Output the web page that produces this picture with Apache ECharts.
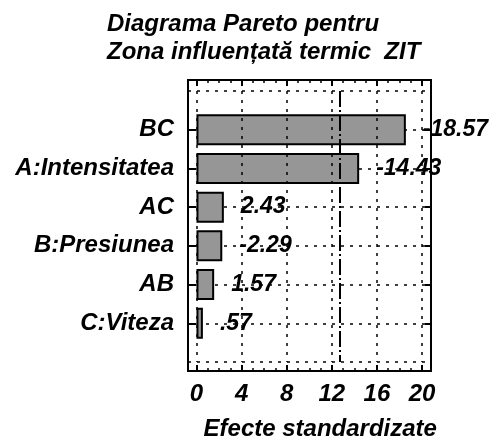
<!DOCTYPE html>
<html>
<head>
<meta charset="utf-8">
<script src="https://cdn.jsdelivr.net/npm/echarts@6/dist/echarts.min.js"></script>
<style>
  html, body { margin: 0; padding: 0; background: #fff; }
  #chart { width: 495px; height: 446px; }
</style>
</head>
<body>
<div id="chart"></div>
<script>
// Standardized effects (signed), one per factor / interaction
const categories = ['BC', 'A:Intensitatea', 'AC', 'B:Presiunea', 'AB', 'C:Viteza'];
const effects = [-18.57, -14.43, 2.43, -2.29, 1.57, 0.57];
// Significance threshold drawn as the vertical reference line
const criticalValue = 12.71;
const scaleTicks = [0, 4, 8, 12, 16, 20];
const titleLines = ['Diagrama Pareto pentru', 'Zona influențată termic  ZIT'];
const axisName = 'Efecte standardizate';

const FONT = "'Liberation Sans', Arial, Helvetica, sans-serif";
const textBase = { fontFamily: FONT, fontStyle: 'italic', fontWeight: 'bold', color: '#000' };

// One empty slot above and below the bars
const slots = [''].concat(categories, ['']);
const barValues = ['-'].concat(effects.map(Math.abs), ['-']);
const isCategory = (i, v) => v !== '';

function effectLabel(v) {
  return v.toFixed(2).replace(/^(-?)0\./, '$1.');
}

const dotted = { type: [3, 6], color: '#000', width: 1.5 };
const tickLine = { color: '#000', width: 2 };

const chart = echarts.init(document.getElementById('chart'), null, { renderer: 'canvas' });

chart.setOption({
  animation: false,
  backgroundColor: '#fff',
  title: {
    text: titleLines.join('\n'),
    left: 102,
    top: 5,
    textStyle: Object.assign({}, textBase, { fontSize: 24, lineHeight: 28 })
  },
  grid: [
    // data area
    { left: 188, right: 64, top: 91, bottom: 84 },
    // frame
    { left: 188, right: 64, top: 80, bottom: 75, show: true, borderColor: '#000', borderWidth: 2, backgroundColor: 'transparent' },
    // scale 0..20 along the frame
    { left: 196.5, right: 73, top: 80, bottom: 75 }
  ],
  xAxis: [
    { gridIndex: 0, type: 'value', min: -0.75, max: 20.8, show: false },
    { gridIndex: 1, type: 'value', show: false },
    {
      gridIndex: 2, type: 'value', position: 'bottom', min: 0, max: 20, interval: 4,
      axisLine: { show: false },
      axisTick: { show: true, inside: true, length: 6, lineStyle: tickLine },
      minorTick: { show: true, splitNumber: 4, length: 3, lineStyle: { color: '#000', width: 1.5 } },
      splitLine: { show: false },
      axisLabel: Object.assign({}, textBase, { fontSize: 24, margin: 11 }),
      name: axisName,
      nameLocation: 'middle',
      nameGap: 46,
      nameTextStyle: Object.assign({}, textBase, { fontSize: 24, padding: [0, 0, 0, 22] })
    },
    {
      gridIndex: 2, type: 'value', position: 'top', min: 0, max: 20, interval: 4,
      axisLine: { show: false },
      axisTick: { show: true, inside: true, length: 6, lineStyle: tickLine },
      minorTick: { show: true, splitNumber: 4, length: 3, lineStyle: { color: '#000', width: 1.5 } },
      splitLine: { show: false },
      axisLabel: { show: false }
    }
  ],
  yAxis: [
    {
      gridIndex: 0, type: 'category', data: slots, inverse: true, boundaryGap: false,
      axisLine: { show: false },
      axisTick: { show: true, interval: isCategory, length: 8, lineStyle: tickLine },
      axisLabel: Object.assign({}, textBase, { fontSize: 24, margin: 14, interval: 0 }),
      splitLine: { show: true, interval: 0, lineStyle: dotted }
    },
    {
      gridIndex: 0, type: 'category', data: slots, inverse: true, boundaryGap: false, position: 'right',
      axisLine: { show: false },
      axisTick: { show: true, inside: true, interval: isCategory, length: 6, lineStyle: tickLine },
      axisLabel: { show: false },
      splitLine: { show: false }
    },
    { gridIndex: 1, type: 'value', show: false },
    { gridIndex: 2, type: 'value', show: false }
  ],
  series: [
    {
      // vertical dotted grid behind the bars
      type: 'line', xAxisIndex: 0, yAxisIndex: 0, data: [], z: 1,
      markLine: {
        silent: true, symbol: ['none', 'none'], label: { show: false },
        lineStyle: dotted,
        data: scaleTicks.map(v => ({ xAxis: v }))
      }
    },
    {
      type: 'bar', xAxisIndex: 0, yAxisIndex: 0, data: barValues, z: 2,
      barWidth: 31,
      itemStyle: { color: '#969696', borderColor: '#000', borderWidth: 2 },
      label: Object.assign({}, textBase, {
        show: true, position: 'right', distance: 17, fontSize: 23,
        formatter: p => effectLabel(effects[p.dataIndex - 1])
      })
    },
    {
      // significance threshold
      type: 'line', xAxisIndex: 0, yAxisIndex: 0, data: [], z: 3,
      markLine: {
        silent: true, symbol: ['none', 'none'], label: { show: false },
        lineStyle: { type: [16, 3, 2, 3], color: '#000', width: 2 },
        data: [{ xAxis: criticalValue }]
      }
    }
  ]
});
</script>
</body>
</html>
